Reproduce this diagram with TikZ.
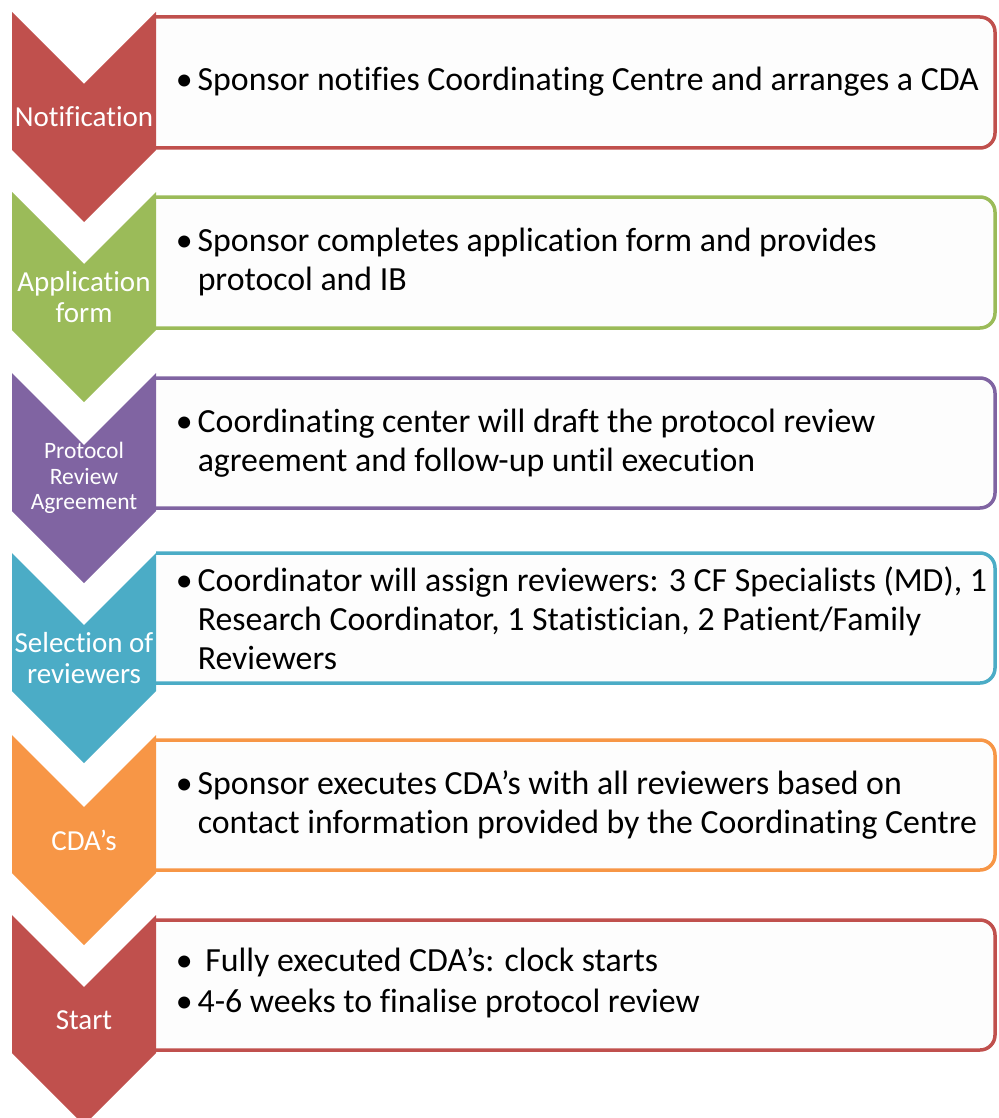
\documentclass[tikz,border=0pt]{standalone}
\usepackage{fontspec}
\setmainfont{Carlito}[Ligatures=NoCommon]
\usetikzlibrary{positioning}

\definecolor{stepred}{HTML}{C0504D}
\definecolor{stepgreen}{HTML}{9BBB59}
\definecolor{steppurple}{HTML}{8064A2}
\definecolor{stepteal}{HTML}{4BACC6}
\definecolor{steporange}{HTML}{F79646}
\definecolor{boxfill}{HTML}{FDFDFD}

\newcommand{\blt}{\makebox[22pt][l]{\textbullet}}
\newcommand{\ind}{\hspace*{22pt}}

\begin{document}
\begin{tikzpicture}[
    x = 1pt, y = -1pt, % pixel grid, y pointing down
    line width = 3.5pt, % frame line style
    ]

    \tikzset{
    stepframe/.style = {draw = #1, fill = boxfill, rounded corners = 15pt},
    chevron/.style = {fill = #1},
    steplabel/.style = {text = white, inner sep = 0pt, align = center,
        font = \fontsize{29}{31}\selectfont},
    steptext/.style = {anchor = west, inner sep = 0pt, align = left,
        font = \fontsize{33.8}{38.8}\selectfont}
    }
    \useasboundingbox (0,0) rectangle (998,1118);

    % frames
    \filldraw[stepframe=stepred]    (156,17)  -- (995,17)  -- (995,148)  -- (156,148);
    \filldraw[stepframe=stepgreen]  (156,197) -- (995,197) -- (995,328)  -- (156,328);
    \filldraw[stepframe=steppurple] (156,378) -- (995,378) -- (995,508)  -- (156,508);
    \filldraw[stepframe=stepteal]   (156,553) -- (995,553) -- (995,683)  -- (156,683);
    \filldraw[stepframe=steporange] (156,740) -- (995,740) -- (995,870)  -- (156,870);
    \filldraw[stepframe=stepred]    (156,920) -- (995,920) -- (995,1050) -- (156,1050);

    % chevrons
    \fill[chevron=stepred]    (12,12)  -- (84,84)  -- (156,12)  -- (156,150)  -- (84,222)  -- (12,150)  -- cycle;
    \fill[chevron=stepgreen]  (12,192) -- (84,264) -- (156,192) -- (156,330)  -- (84,402)  -- (12,330)  -- cycle;
    \fill[chevron=steppurple] (12,373) -- (84,445) -- (156,373) -- (156,511)  -- (84,583)  -- (12,511)  -- cycle;
    \fill[chevron=stepteal]   (12,553) -- (84,625) -- (156,553) -- (156,691)  -- (84,763)  -- (12,691)  -- cycle;
    \fill[chevron=steporange] (12,735) -- (84,807) -- (156,735) -- (156,873)  -- (84,945)  -- (12,873)  -- cycle;
    \fill[chevron=stepred]    (12,915) -- (84,987) -- (156,915) -- (156,1053) -- (84,1125) -- (12,1053) -- cycle;

    % step names
    \node[steplabel] (notif)  at (84,117) {Notification};
    \node[steplabel] (appl)   at (84,297) {Application\\form};
    \node[steplabel, font=\fontsize{23.5}{25.5}\selectfont] (prot) at (84,478) {Protocol\\Review\\Agreement};
    \node[steplabel] (selrev) at (84,658) {Selection of\\reviewers};
    \node[steplabel] (cdas)   at (84,840) {CDA’s};
    \node[steplabel] (start)  at (84,1020) {Start};

    % step descriptions
    \node[steptext] (notiftxt)  at (174,82) {\blt Sponsor notifies Coordinating Centre and arranges a CDA};
    \node[steptext] (appltxt)   at (174,262) {\blt Sponsor completes application form and provides\\\ind protocol and IB};
    \node[steptext] (prottxt)   at (174,443) {\blt Coordinating center will draft the protocol review\\\ind agreement and follow-up until execution};
    \node[steptext] (selrevtxt) at (174,618) {\blt Coordinator will assign reviewers: 3 CF Specialists (MD), 1\\\ind Research Coordinator, 1 Statistician, 2 Patient/Family\\\ind Reviewers};
    \node[steptext] (cdastxt)   at (174,805) {\blt Sponsor executes CDA’s with all reviewers based on\\\ind contact information provided by the Coordinating Centre};
    \node[steptext] (starttxt)  at (174,983) {\blt\ Fully executed CDA’s: clock starts\\[2.5pt]\blt 4-6 weeks to finalise protocol review};
\end{tikzpicture}
\end{document}
